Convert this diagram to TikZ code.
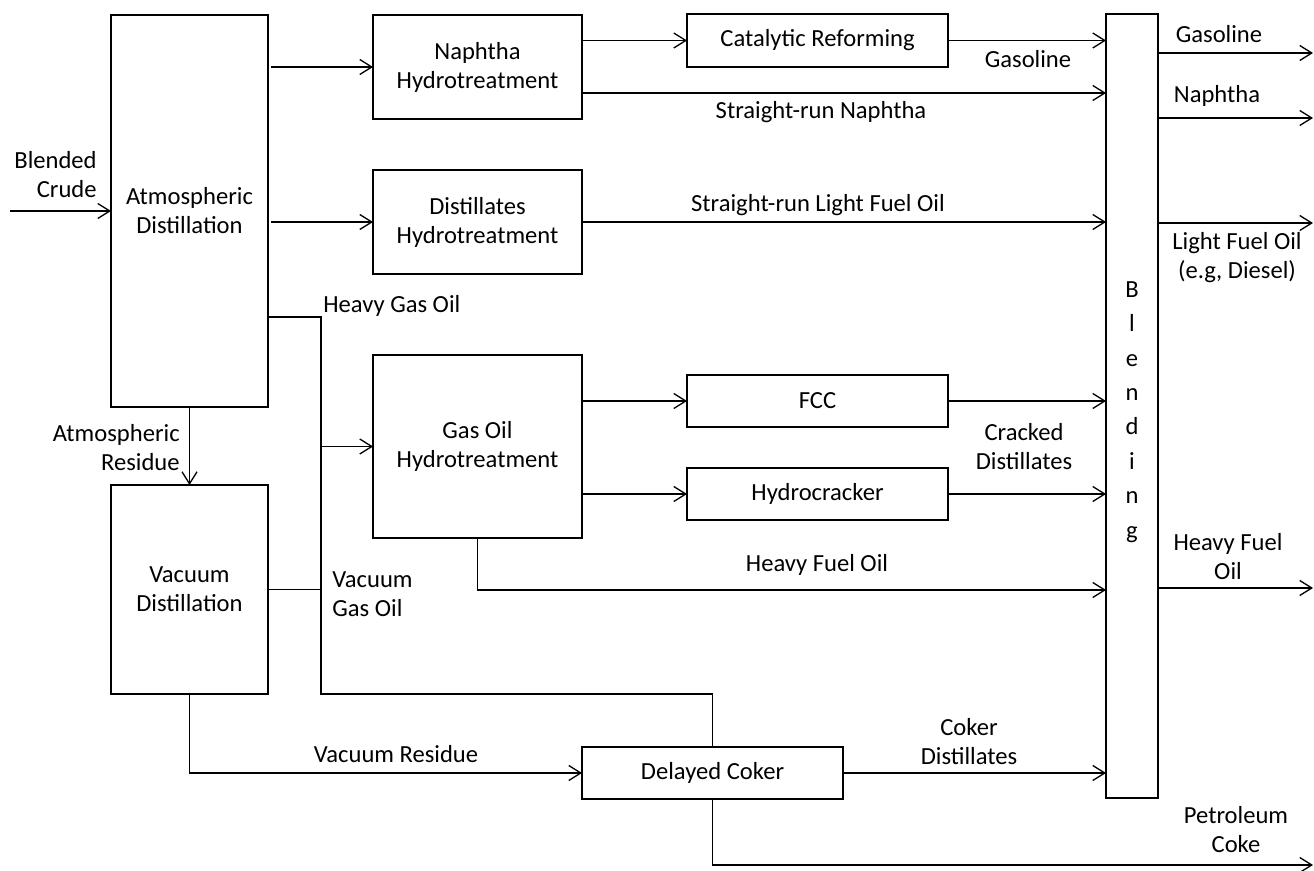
\documentclass[tikz,border=0pt]{standalone}
\usepackage{fontspec}
\setmainfont{Carlito}
\usetikzlibrary{arrows.meta}

\begin{document}
\begin{tikzpicture}[x=0.02cm, y=-0.02cm,
    unitbox/.style={draw, line width=0.75pt, inner sep=0pt, outer sep=0pt, align=center, font=\fontsize{14}{16.5}\selectfont},
    flow/.style={line width=0.75pt, -{Straight Barb[length=0.24cm, width=0.3cm]}},
    pipe/.style={line width=0.75pt},
    lbl/.style={inner sep=0pt, align=center, font=\fontsize{14}{16.5}\selectfont}]

    \useasboundingbox (0,0) rectangle (1314,871);

    % Units
    \node[unitbox, minimum width=3.14cm, minimum height=7.84cm] (atm) at (189.5,211) {Atmospheric\\Distillation};
    \node[unitbox, minimum width=3.14cm, minimum height=4.18cm] (vac) at (189.5,589.5) {Vacuum\\Distillation};
    \node[unitbox, minimum width=4.18cm, minimum height=2.08cm] (naphht) at (477.5,67) {Naphtha\\Hydrotreatment};
    \node[unitbox, minimum width=4.18cm, minimum height=2.08cm] (distht) at (477.5,222) {Distillates\\Hydrotreatment};
    \node[unitbox, minimum width=4.18cm, minimum height=3.66cm] (gasoilht) at (477.5,446.5) {Gas Oil\\Hydrotreatment};
    \node[unitbox, minimum width=5.22cm, minimum height=1.06cm] (reform) at (817.5,40.5) {Catalytic Reforming};
    \node[unitbox, minimum width=5.22cm, minimum height=1.04cm] (fcc) at (817.5,401) {FCC};
    \node[unitbox, minimum width=5.22cm, minimum height=1.04cm] (hcrack) at (817.5,494) {Hydrocracker};
    \node[unitbox, minimum width=5.22cm, minimum height=1.04cm] (coker) at (712.5,773) {Delayed Coker};
    \node[unitbox, minimum width=1.04cm, minimum height=15.68cm] (blend) at (1132,406) {};
    \node[lbl, font=\fontsize{14}{19.6}\selectfont] (blendtxt) at (1132,412) {B\\l\\e\\n\\d\\i\\n\\g};

    % Free ends and bends
    \coordinate (feed) at (10,211);
    \coordinate (hgo) at (321,317);
    \coordinate (hfo) at (477.5,590);
    \coordinate (outgas) at (1313,53);
    \coordinate (outnaph) at (1313,118);
    \coordinate (outlfo) at (1313,223);
    \coordinate (outhfo) at (1313,588);
    \coordinate (outcoke) at (1313,865);

    % Crude feed and atmospheric products
    \draw[flow] (feed) -- (atm.west);
    \draw[flow] ([xshift=0.06cm]atm.east |- naphht) -- (naphht.west);
    \draw[flow] ([xshift=0.06cm]atm.east |- distht) -- (distht.west);
    \draw[flow] (atm.south) -- (vac.north);

    % Heavy gas oil header
    \draw[pipe] (atm.east |- hgo) -- (hgo) -- (hgo |- vac.south) -- (coker.north |- vac.south) -- (coker.north);
    \draw[pipe] (vac.east) -- (vac.east -| hgo);
    \draw[flow] (hgo |- gasoilht) -- (gasoilht.west);
    \draw[flow] (vac.south) -- (vac.south |- coker.west) -- (coker.west);

    % Naphtha line
    \draw[flow] (naphht.east |- reform) -- (reform.west);
    \draw[flow] (reform.east) -- (reform.east -| blend.west);
    \draw[flow] ([yshift=-0.52cm]naphht.east) -- ([yshift=-0.52cm]naphht.east -| blend.west);

    % Distillates line
    \draw[flow] (distht.east) -- (distht.east -| blend.west);

    % Gas oil line
    \draw[flow] (gasoilht.east |- fcc) -- (fcc.west);
    \draw[flow] (gasoilht.east |- hcrack) -- (hcrack.west);
    \draw[flow] (fcc.east) -- (fcc.east -| blend.west);
    \draw[flow] (hcrack.east) -- (hcrack.east -| blend.west);
    \draw[flow] (gasoilht.south) -- (hfo) -- (hfo -| blend.west);

    % Coker products
    \draw[flow] (coker.east) -- (coker.east -| blend.west);
    \draw[flow] (coker.south) -- (coker.south |- outcoke) -- (outcoke);

    % Blended products
    \draw[flow] (blend.east |- outgas) -- (outgas);
    \draw[flow] (blend.east |- outnaph) -- (outnaph);
    \draw[flow] (blend.east |- outlfo) -- (outlfo);
    \draw[flow] (blend.east |- outhfo) -- (outhfo);

    % Stream labels
    \node[lbl, align=right, anchor=east] (lblfeed) at (97,174.5) {Blended\\Crude};
    \node[lbl, anchor=west] (lblhgo) at (323,306) {Heavy Gas Oil};
    \node[lbl, align=right, anchor=east] (lblatmres) at (180,447.5) {Atmospheric\\Residue};
    \node[lbl, align=left, anchor=west] (lblvgo) at (332,594) {Vacuum\\Gas Oil};
    \node[lbl] (lblvacres) at (396,754) {Vacuum Residue};
    \node[lbl] (lblsrn) at (821,112) {Straight-run Naphtha};
    \node[lbl] (lblsrlfo) at (818,205) {Straight-run Light Fuel Oil};
    \node[lbl] (lblrefgas) at (1028,59) {Gasoline};
    \node[lbl] (lblcracked) at (1024,446.5) {Cracked\\Distillates};
    \node[lbl] (lblhfo) at (817,565) {Heavy Fuel Oil};
    \node[lbl] (lblcokerdist) at (969,742) {Coker\\Distillates};

    % Product labels
    \node[lbl] (lbloutgas) at (1219,34) {Gasoline};
    \node[lbl] (lbloutnaph) at (1217,96) {Naphtha};
    \node[lbl] (lbloutlfo) at (1237,258) {Light Fuel Oil\\(e.g, Diesel)};
    \node[lbl] (lblouthfo) at (1228,557) {Heavy Fuel\\Oil};
    \node[lbl] (lbloutcoke) at (1236,829.5) {Petroleum\\Coke};

\end{tikzpicture}
\end{document}
